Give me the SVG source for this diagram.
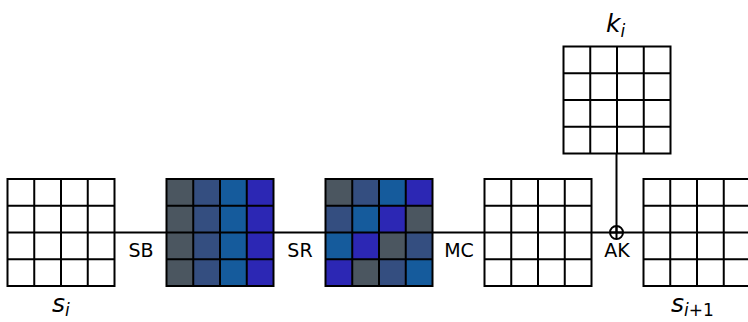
<svg xmlns="http://www.w3.org/2000/svg" width="748" height="322" viewBox="0 0 748 322">
<style>
.g{fill:none;stroke:#000;stroke-width:2}
.a{fill:#4b5660}.b{fill:#344e80}.m{fill:#155b9c}.v{fill:#2c27b4}
.lbl{font-family:"DejaVu Sans",sans-serif;font-size:19px;fill:#000;text-anchor:middle}
.math{font-family:"DejaVu Sans",sans-serif;font-style:italic;font-size:25px;fill:#000}
.sub{font-size:17px}
.up{font-style:normal}
.wire{stroke:#000;stroke-width:2;fill:none}
</style>
<defs>
<g id="grid">
<rect class="g" x="0" y="0" width="107" height="107"/>
<path class="g" d="M26.75 0V107M53.5 0V107M80.25 0V107M0 26.75H107M0 53.5H107M0 80.25H107"/>
</g>
</defs>
<g id="connectors">
<path class="wire" d="M115 232.5H167M274 232.5H326M433 232.5H485M591.5 232.5H643.5"/>
<path class="wire" d="M616.5 153V232.5"/>
<circle class="wire" cx="616.5" cy="232.5" r="6.5" fill="#fff"/>
<path class="wire" d="M610 232.5H623M616.5 226V239" stroke-width="1.6"/>
</g>
<g id="s_i">
<rect x="7.5" y="179" width="107" height="107" fill="#fff"/>
<use href="#grid" x="7.5" y="179"/>
<text class="math" x="52" y="312">s<tspan class="sub" dy="4">i</tspan></text>
</g>
<g id="sb">
<g transform="translate(166.5,179)">
<rect class="a" x="0" y="0" width="26.75" height="107"/>
<rect class="b" x="26.75" y="0" width="26.75" height="107"/>
<rect class="m" x="53.5" y="0" width="26.75" height="107"/>
<rect class="v" x="80.25" y="0" width="26.75" height="107"/>
</g>
<use href="#grid" x="166.5" y="179"/>
<text class="lbl" x="141" y="257">SB</text>
</g>
<g id="sr">
<g transform="translate(325.5,179)">
<rect class="a" x="0" y="0" width="26.75" height="26.75"/>
<rect class="b" x="26.75" y="0" width="26.75" height="26.75"/>
<rect class="m" x="53.5" y="0" width="26.75" height="26.75"/>
<rect class="v" x="80.25" y="0" width="26.75" height="26.75"/>
<rect class="b" x="0" y="26.75" width="26.75" height="26.75"/>
<rect class="m" x="26.75" y="26.75" width="26.75" height="26.75"/>
<rect class="v" x="53.5" y="26.75" width="26.75" height="26.75"/>
<rect class="a" x="80.25" y="26.75" width="26.75" height="26.75"/>
<rect class="m" x="0" y="53.5" width="26.75" height="26.75"/>
<rect class="v" x="26.75" y="53.5" width="26.75" height="26.75"/>
<rect class="a" x="53.5" y="53.5" width="26.75" height="26.75"/>
<rect class="b" x="80.25" y="53.5" width="26.75" height="26.75"/>
<rect class="v" x="0" y="80.25" width="26.75" height="26.75"/>
<rect class="a" x="26.75" y="80.25" width="26.75" height="26.75"/>
<rect class="b" x="53.5" y="80.25" width="26.75" height="26.75"/>
<rect class="m" x="80.25" y="80.25" width="26.75" height="26.75"/>
</g>
<use href="#grid" x="325.5" y="179"/>
<text class="lbl" x="300" y="257">SR</text>
</g>
<g id="mc">
<rect x="484.5" y="179" width="107" height="107" fill="#fff"/>
<use href="#grid" x="484.5" y="179"/>
<text class="lbl" x="459" y="257">MC</text>
</g>
<g id="k_i">
<rect x="563.5" y="47" width="106" height="106" fill="#fff"/>
<use href="#grid" x="563.5" y="46.5"/>
<text class="math" x="606" y="32">k<tspan class="sub" dy="5">i</tspan></text>
</g>
<g id="ak">
<text class="lbl" x="617" y="257">AK</text>
</g>
<g id="s_i1">
<rect x="643.5" y="179" width="107" height="107" fill="#fff"/>
<use href="#grid" x="643.5" y="179"/>
<text class="math" x="671" y="312">s<tspan class="sub" dy="4">i<tspan class="up">+1</tspan></tspan></text>
</g>
</svg>
